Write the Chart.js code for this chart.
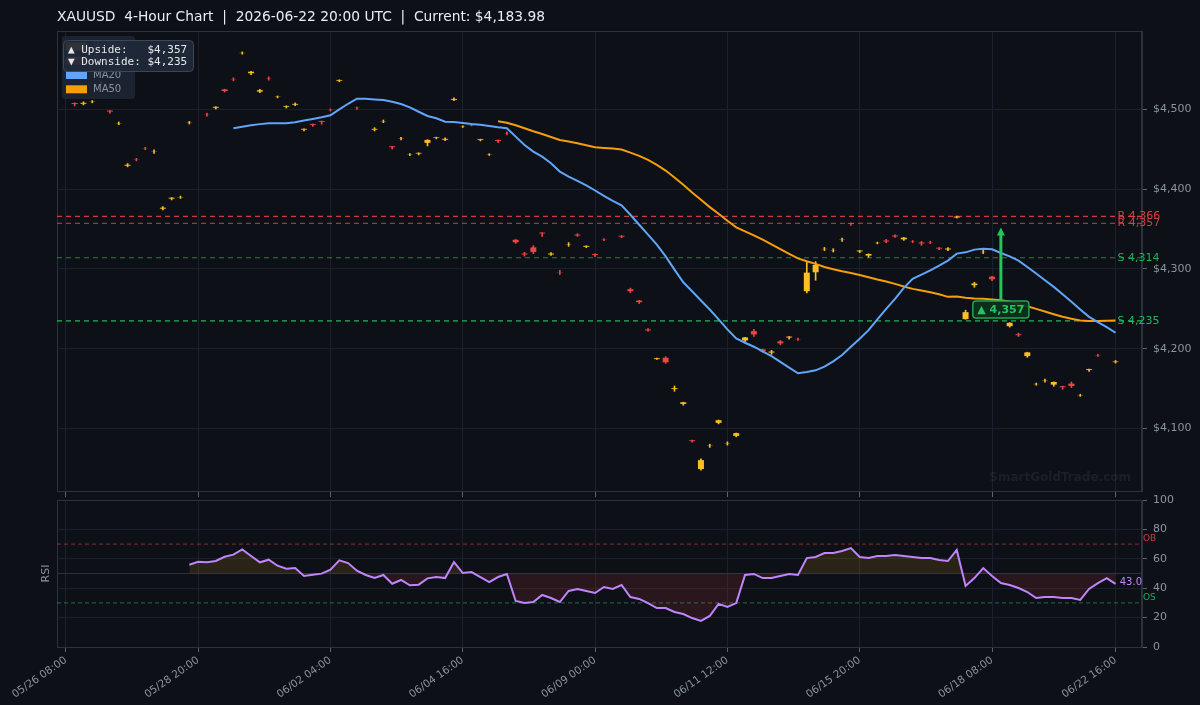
<!DOCTYPE html>
<html><head><meta charset="utf-8">
<script src="https://cdn.jsdelivr.net/npm/chart.js@4.4.1/dist/chart.umd.min.js"></script>
<style>
html,body{margin:0;padding:0;background:#0d1017;}
#wrap{position:relative;width:1200px;height:705px;background:#0d1017;overflow:hidden;}
#c1{position:absolute;left:0;top:0;width:1200px;height:498px;}
#c2{position:absolute;left:0;top:488px;width:1200px;height:217px;}
</style></head>
<body><div id="wrap"><canvas id="c1" width="1200" height="498"></canvas><canvas id="c2" width="1200" height="217"></canvas></div>
<script>
// ---------------- DATA ----------------
const tickLabels = ['05/26 08:00','05/28 20:00','06/02 04:00','06/04 16:00','06/09 00:00','06/11 12:00','06/15 20:00','06/18 08:00','06/22 16:00'];
const tickIdx = [0,15,30,45,60,75,90,105,119];

const opens = [4559.5,4507.9,4507,4509.6,4533.5,4498.4,4482.4,4429.4,4437.2,4451.2,
4447,4375.5,4388.1,4389.4,4483.2,null,4493.7,4502,4525.1,4537.7,
4570.5,4545.3,4522.2,4539,4515.5,4503.3,4505.8,4474.6,4481.6,4485.4,
4499.4,4535.9,null,4502,null,4474.6,4484.8,4453.7,4463.2,4443.2,
4444.6,4458,4464.3,4461.9,4511.9,4478.2,4480.2,4461.6,4443.2,4461.6,
4470.1,4336.6,4319.3,4327,4345.5,4318.1,4295.8,4330.5,4343,4327.8,
4318.7,4336.8,null,4341.6,4274.6,4260.4,4224.2,4187,4188.7,4149.4,
4130.8,4085.3,4049.2,4078.1,4107.1,4081.1,4090.8,4210.4,4222,4199.2,
4195.2,4209.2,4214,4212.1,4272.1,4295.8,4324.8,4323.2,4336.6,4357.4,
4322,4316.7,4332.4,4335.6,4341.9,4337.1,4334.4,4333.1,4333.4,4326.6,
4324.4,4364.4,4237.1,4279.6,4321.1,4290.4,null,4228.3,4218.1,4190.8,
4155.6,4159.8,4155,4153,4156.25,4141.6,4173.3,4191.8,null,4183.2];
const highs = [4562,4508.2,4509.4,4511,4535,4498.6,4484.2,4432,4438.6,4452.5,
4449.2,4378,4389.4,4391.3,4484.9,null,4495.4,4503.3,4525.3,4539.6,
4572,4547.6,4525,4540.8,4516.8,4504.4,4508,4475.6,4481.7,4485.5,
4500.5,4537,null,4503,null,4477,4486.7,4453.8,4464.8,4444.6,
4445.6,4462,4465.2,4464.2,4514.5,4479.4,4480.8,4462.6,4444.4,4461.7,
4471.8,4336.8,4320.8,4329.2,4345.6,4320.4,4298.3,4333,4344.2,4328.9,
4318.8,4337.9,null,4341.7,4276,4260.6,4225.4,4188.4,4190,4153.3,
4133,4085.4,4062,4080.3,4110.6,4083.3,4094.4,4214.4,4224.2,4199.4,
4197.9,4210.4,4215.2,4213.4,4309.6,4309.2,4327,4325.4,4338.8,4357.5,
4323.1,4318.9,4333.6,4337,4342.9,4339.4,4335.6,4334.6,4334.8,4326.7,
4326.7,4366.3,4248.3,4283.3,4323.3,4290.6,null,4232.7,4219.6,4195.6,
4157,4162,4158.5,4153.1,4158.3,4143,4174.4,4192.9,null,4185.3];
const lows = [4557,4504.4,4505.6,4508.2,4531,4495.2,4480.8,4428,4435.4,4449.4,
4444.8,4374,4386.5,4388.4,4481.6,null,4491.6,4500.4,4521.6,4535.8,
4569.2,4543.6,4520.8,4536.6,4514.4,4501.7,4504.6,4472.9,4478.7,4481.3,
4497.9,4534.6,null,4500,null,4473,4483.3,4450.4,4461.7,4442,
4442.9,4454.2,4463,4460.8,4510.8,4477.3,4479.3,4460.4,4442.2,4458.4,
4468,4332,4316,4319.2,4340.8,4317,4293,4328.3,4340.8,4326.7,
4315.4,4335.4,null,4339,4270.4,4256.7,4222,4186.6,4181.7,4146.7,
4129.2,4082.9,4047.9,4076.3,4105.8,4079.2,4089.6,4208.7,4215.4,4195.4,
4192.9,4205,4212,4210.4,4270,4285.8,4323,4321.2,4334.6,4354.6,
4320.4,4314.6,4331.4,4332.9,4339.6,4335.8,4332.9,4329.6,4331.7,4324.2,
4322.9,4363.8,4237,4277,4319.2,4285.4,null,4227.1,4215.4,4189.2,
4154.2,4158,4152.9,4149.2,4151.25,4140.4,4171.7,4190.4,null,4182];
const closes = [4560.8,4506.7,4508.2,4509.9,4533.2,4497.2,4482.7,4430.6,4436.9,4450.9,
4447.3,4376.8,4389.3,4389.7,4483.5,null,4493.4,4503.2,4523,4537.4,
4570.8,4547.2,4524,4538.7,4515.8,4504.3,4506.9,4475.6,4480.5,4484.3,
4499.1,4536.9,null,4501.7,null,4475.6,4485.1,4452.6,4463.5,4443.5,
4445.5,4461.7,4465.1,4463.1,4513.1,4478.5,4479.9,4462.6,4443.5,4460.4,
4469.8,4333.4,4318.1,4321.3,4344.4,4319.3,4295.5,4330.8,4341.9,4329,
4317.6,4336.5,null,4340.5,4272.1,4258.3,4223,4188.1,4183,4150.6,
4132.9,4084.2,4060.4,4078.4,4110.4,4081.4,4094.2,4214.2,4217.9,4196.7,
4196.5,4206.7,4215.2,4211.8,4295.4,4305,4325.1,4323.5,4336.9,4356.3,
4323.1,4318.75,4332.7,4334.4,4340.7,4339.2,4334.1,4331.9,4333.1,4325.5,
4325.6,4365.6,4245.8,4281.7,4321.4,4287.1,null,4232.5,4216.9,4195.4,
4155.9,4160.1,4158.3,4151.8,4153.3,4141.9,4174.4,4191.5,null,4183.98];

const MA20_START = 19;
const ma20 = [4476.3,4478.3,4480,4481.5,4482.5,4482.5,4482.5,4483.8,4486,4488,
4490,4492.5,4500,4507,4513.3,4513.3,4512.5,4511.7,4509.5,4506.7,
4502.5,4497,4491.7,4488.8,4484.6,4484.2,4482.9,4481.7,4480.8,4479.2,
4477.5,4476.3,4465.8,4455.4,4447.1,4440.8,4432.5,4422,4415.8,4410.4,
4404.6,4398.3,4391.7,4385.4,4379.6,4367.9,4355.4,4342.9,4330.4,4315.8,
4299.2,4283.3,4272.1,4260.4,4249.2,4236.7,4224.2,4212.9,4207.5,4202.5,
4196.7,4190.8,4183.5,4176.3,4169.2,4170.8,4172.9,4177.5,4184.2,4192.1,
4202.5,4212.5,4223.3,4236.7,4250,4262.5,4276.3,4287.5,4292.9,4298.3,
4304.2,4310.4,4319.2,4320.8,4324.2,4325.4,4324.6,4320,4315.8,4310.4,
4302.5,4294.2,4285.8,4277.5,4268.3,4258.8,4249.2,4240,4233.3,4227,4220];

const MA50_START = 49;
const ma50 = [4485,4483.3,4480,4476.3,4472.5,4469.2,4465.4,4461.7,4459.6,4457.5,
4455,4452.5,4451.7,4450.8,4449.6,4445.8,4441.7,4436.7,4430.4,4423.3,
4414.6,4405.4,4395.8,4386.7,4377.5,4369.2,4360.4,4352.1,4347.1,4342.1,
4336.7,4330.8,4324.8,4319,4313.3,4309.6,4306.3,4302.5,4299.6,4297.1,
4295,4292.5,4289.6,4286.7,4284.2,4281.3,4277.9,4275,4272.9,4270.8,
4268.3,4265,4265.4,4263.8,4262.9,4262.5,4261.7,4260.8,4259.2,4256.3,
4253.3,4250,4246.7,4243.3,4240,4237.5,4235.4,4234.6,4234.6,4235,4235.4];

const RSI_START = 14;
const rsi = [56,58,57.6,58.5,61.4,62.8,66.4,61.9,57.6,59.4,
55.3,53.3,53.7,48.3,49.2,49.9,52.6,59,57.1,51.9,
49,46.9,49,43,45.6,42,42.4,46.7,47.6,46.9,
57.8,50.3,51,47.6,44.2,47.6,49.7,31.3,29.9,30.6,
35.4,33.3,30.6,38.1,39.5,38.1,36.7,40.8,39.5,42.2,
34,32.7,29.9,26.5,26.5,23.8,22.4,19.7,17.7,21.1,
29.3,27.2,29.9,49,49.7,46.9,46.9,48.3,49.7,49,
60.5,61.2,63.9,63.9,65.3,67.3,61.2,60.5,61.9,61.9,
62.6,61.9,61.2,60.5,60.5,59.2,58.5,66,41.5,46.9,
53.7,48.3,43.5,42.2,40.1,37.4,33.3,34,34,33.3,
33.3,32,39.5,43.5,46.9,43];

const levelNames = ['R 4,366','R 4,357','S 4,314','S 4,235'];
const levelValues = [4366,4357,4314,4235];
const upsideTarget = 4357, downsideTarget = 4235;
const arrowIndex = 106, arrowBase = 4261;
const rsiOB = 70, rsiOS = 30, rsiMid = 50;

// ---------------- STYLE ----------------
const BG = '#0d1017', GRID = '#1b212c', BORDER = '#2a3240', TICKC = '#5b6473', TXT = '#8b949e';
const BULL = '#fbbf24', BEAR = '#ef4444', MA20C = '#60a5fa', MA50C = '#f59e0b', RSIC = '#c084fc';
const levelColors = ['rgba(239,68,68,0.85)','rgba(225,62,62,0.75)','rgba(34,197,94,0.65)','rgba(34,197,94,0.9)'];
const levelTextColors = ['#d9413f','#d33e3e','#1fae55','#22b858'];
const FONT = 'DejaVu Sans';
Chart.defaults.font.family = FONT;
Chart.defaults.color = TXT;

const N = closes.length;
const bodyPts = [], wickPts = [];
for (let i = 0; i < N; i++) {
  if (closes[i] == null) continue;
  bodyPts.push({x: i, y: [opens[i], closes[i]]});
  wickPts.push({x: i, y: [lows[i], highs[i]]});
}
const candleColor = c => { const i = c.raw ? c.raw.x : 0; return closes[i] >= opens[i] ? BULL : BEAR; };
const allLow = Math.min(...lows.filter(v => v != null));
const allHigh = Math.max(...highs.filter(v => v != null));
const pad = (allHigh - allLow) * 0.05;
const Y_MIN = allLow - pad, Y_MAX = allHigh + pad;
const X_MIN = -1, X_MAX = 122;

const levelSets = levelValues.map((v, k) => ({
  type: 'line', label: levelNames[k], data: [{x: X_MIN, y: v}, {x: X_MAX, y: v}],
  borderColor: levelColors[k], borderWidth: 1.2, borderDash: [5, 4], pointRadius: 0, order: 3
}));

function roundRect(ctx, x, y, w, h, r) {
  ctx.beginPath();
  ctx.moveTo(x + r, y); ctx.lineTo(x + w - r, y); ctx.quadraticCurveTo(x + w, y, x + w, y + r);
  ctx.lineTo(x + w, y + h - r); ctx.quadraticCurveTo(x + w, y + h, x + w - r, y + h);
  ctx.lineTo(x + r, y + h); ctx.quadraticCurveTo(x, y + h, x, y + h - r);
  ctx.lineTo(x, y + r); ctx.quadraticCurveTo(x, y, x + r, y); ctx.closePath();
}

const mainDecor = {
  id: 'mainDecor',
  beforeDraw(chart) {
    const {ctx, width, height} = chart;
    ctx.save(); ctx.fillStyle = BG; ctx.fillRect(0, 0, width, height); ctx.restore();
  },
  beforeDatasetsDraw(chart) {
    const {ctx, chartArea: a} = chart;
    ctx.save();
    ctx.strokeStyle = BORDER; ctx.lineWidth = 1;
    ctx.strokeRect(a.left + 0.5, a.top + 0.5, a.right - a.left - 1, a.bottom - a.top);
    ctx.font = 'bold 12px ' + FONT; ctx.fillStyle = 'rgba(120,135,160,0.13)';
    ctx.textAlign = 'right'; ctx.textBaseline = 'alphabetic';
    ctx.fillText('SmartGoldTrade.com', a.right - 11, a.bottom - 10);
    ctx.restore();
  },
  afterDatasetsDraw(chart) {
    const {ctx, scales: {x, y}} = chart;
    ctx.save();
    ctx.font = '11px ' + FONT; ctx.textAlign = 'left'; ctx.textBaseline = 'middle';
    levelValues.forEach((v, k) => {
      ctx.fillStyle = levelTextColors[k];
      ctx.fillText(levelNames[k], x.getPixelForValue(N - 1) + 2, y.getPixelForValue(v));
    });
    const ax = x.getPixelForValue(arrowIndex);
    const yb = y.getPixelForValue(arrowBase), yt = y.getPixelForValue(upsideTarget) + 4;
    ctx.strokeStyle = '#22c55e'; ctx.fillStyle = '#22c55e'; ctx.lineWidth = 3;
    ctx.beginPath(); ctx.moveTo(ax, yb); ctx.lineTo(ax, yt + 6); ctx.stroke();
    ctx.beginPath(); ctx.moveTo(ax, yt); ctx.lineTo(ax - 4, yt + 8); ctx.lineTo(ax + 4, yt + 8); ctx.closePath(); ctx.fill();
    const txt = '\u25B2 ' + upsideTarget.toLocaleString('en-US');
    ctx.font = 'bold 11px ' + FONT;
    const tw = ctx.measureText(txt).width;
    const bw = tw + 9, bh = 17, bx = ax - bw / 2, by = yb + 1;
    roundRect(ctx, bx, by, bw, bh, 3);
    ctx.fillStyle = 'rgba(12,50,28,0.92)'; ctx.fill();
    ctx.strokeStyle = '#1fa653'; ctx.lineWidth = 1.5; ctx.stroke();
    ctx.fillStyle = '#22c55e'; ctx.textAlign = 'center'; ctx.textBaseline = 'middle';
    ctx.fillText(txt, ax, by + bh / 2 + 0.5);
    ctx.restore();
  },
  afterDraw(chart) {
    const {ctx} = chart;
    ctx.save();
    ctx.font = '13.8px ' + FONT; ctx.fillStyle = '#e6edf3'; ctx.textAlign = 'left'; ctx.textBaseline = 'middle';
    ctx.fillText('XAUUSD  4-Hour Chart  |  2026-06-22 20:00 UTC  |  Current: $' + closes[N - 1].toLocaleString('en-US', {minimumFractionDigits: 2}), 57, 17);
    const items = [['Bullish', BULL], ['Bearish', BEAR], ['MA20', MA20C], ['MA50', MA50C]];
    roundRect(ctx, 62, 36, 73, 63, 3);
    ctx.fillStyle = 'rgba(30,39,54,0.85)'; ctx.fill();
    ctx.font = '10px ' + FONT; ctx.textBaseline = 'middle';
    items.forEach((it, k) => {
      const cy = 46.4 + k * 14.3;
      ctx.fillStyle = it[1]; ctx.fillRect(66, cy - 4, 21, 8);
      ctx.fillStyle = TXT; ctx.fillText(it[0], 93, cy);
    });
    roundRect(ctx, 63.5, 40.5, 130, 31, 4);
    ctx.fillStyle = 'rgba(31,41,57,0.93)'; ctx.fill();
    ctx.strokeStyle = '#3b4656'; ctx.lineWidth = 1; ctx.stroke();
    ctx.font = '11px DejaVu Sans Mono'; ctx.fillStyle = '#e5e7eb';
    ctx.fillText('\u25B2 Upside:   $' + upsideTarget.toLocaleString('en-US'), 68, 50.5);
    ctx.fillText('\u25BC Downside: $' + downsideTarget.toLocaleString('en-US'), 68, 62.5);
    ctx.restore();
  }
};

const xTicks = s => { s.ticks = tickIdx.map(v => ({value: v})); };
const noPadY = s => { s.width = 58; s.paddingTop = 0; s.paddingBottom = 0; };

new Chart(document.getElementById('c1'), {
  type: 'bar',
  data: { datasets: [
    {type: 'line', label: 'MA20', data: ma20.map((v, k) => ({x: MA20_START + k, y: v})), borderColor: MA20C, borderWidth: 2, pointRadius: 0, tension: 0, order: 0},
    {type: 'line', label: 'MA50', data: ma50.map((v, k) => ({x: MA50_START + k, y: v})), borderColor: MA50C, borderWidth: 2, pointRadius: 0, tension: 0, order: 0},
    {type: 'bar', label: 'Body', data: bodyPts, backgroundColor: candleColor, borderWidth: 0, barPercentage: 0.68, categoryPercentage: 1, grouped: false, order: 1},
    {type: 'bar', label: 'Wick', data: wickPts, backgroundColor: candleColor, borderWidth: 0, barThickness: 1, grouped: false, order: 2},
    ...levelSets
  ]},
  options: {
    responsive: false, animation: false, devicePixelRatio: 1,
    layout: {padding: {left: 57, top: 31, right: 0, bottom: 0}},
    plugins: {legend: {display: false}, tooltip: {enabled: false}},
    scales: {
      x: {type: 'linear', min: X_MIN, max: X_MAX, offset: false, afterBuildTicks: xTicks,
          ticks: {display: false}, grid: {offset: false, color: GRID, tickColor: TICKC, tickLength: 6},
          border: {color: BORDER}, afterFit: s => { s.height = 7; }},
      y: {type: 'linear', position: 'right', min: Y_MIN, max: Y_MAX,
          ticks: {stepSize: 100, includeBounds: false, color: TXT, font: {size: 11}, padding: 6,
                  callback: v => '$' + v.toLocaleString('en-US')},
          grid: {color: GRID, tickColor: TICKC, tickLength: 5},
          border: {color: BORDER}, afterFit: noPadY}
    }
  },
  plugins: [mainDecor]
});

// ---------------- RSI ----------------
const rsiDecor = {
  id: 'rsiDecor',
  beforeDatasetsDraw(chart) {
    const {ctx, chartArea: a} = chart;
    ctx.save(); ctx.strokeStyle = BORDER; ctx.lineWidth = 1;
    ctx.strokeRect(a.left + 0.5, a.top + 0.5, a.right - a.left - 1, a.bottom - a.top);
    ctx.restore();
  },
  afterDraw(chart) {
    const {ctx, chartArea: a, scales: {x, y}} = chart;
    ctx.save();
    ctx.font = '11px ' + FONT; ctx.fillStyle = TXT; ctx.textAlign = 'center'; ctx.textBaseline = 'middle';
    ctx.translate(46, (a.top + a.bottom) / 2); ctx.rotate(-Math.PI / 2); ctx.fillText('RSI', 0, 0);
    ctx.restore();
    ctx.save();
    ctx.font = '9px ' + FONT; ctx.textAlign = 'left'; ctx.textBaseline = 'middle';
    ctx.fillStyle = 'rgba(239,68,68,0.85)'; ctx.fillText('OB', a.right + 1, y.getPixelForValue(rsiOB) - 5);
    ctx.fillStyle = 'rgba(34,197,94,0.85)'; ctx.fillText('OS', a.right + 1, y.getPixelForValue(rsiOS) - 5);
    const last = rsi[rsi.length - 1];
    ctx.font = '10px ' + FONT; ctx.fillStyle = RSIC; ctx.textAlign = 'right';
    ctx.fillText(last.toFixed(1), a.right, y.getPixelForValue(last) - 1);
    ctx.restore();
  }
};

const hLine = (v, color, dash) => ({type: 'line', data: [{x: X_MIN, y: v}, {x: X_MAX, y: v}], borderColor: color, borderWidth: 1, borderDash: dash, pointRadius: 0, order: 5});

new Chart(document.getElementById('c2'), {
  type: 'line',
  data: { datasets: [
    {label: 'RSI', data: rsi.map((v, k) => ({x: RSI_START + k, y: v})), borderColor: RSIC, borderWidth: 2, pointRadius: 0, tension: 0,
     fill: {target: {value: rsiMid}, above: 'rgba(234,179,8,0.13)', below: 'rgba(239,68,68,0.13)'}, order: 0},
    hLine(rsiOB, 'rgba(239,68,68,0.55)', [4, 3]),
    hLine(rsiOS, 'rgba(34,197,94,0.55)', [4, 3]),
    hLine(rsiMid, '#2a3240', [])
  ]},
  options: {
    responsive: false, animation: false, devicePixelRatio: 1,
    layout: {padding: {left: 57, top: 12, right: 0, bottom: 0}},
    plugins: {legend: {display: false}, tooltip: {enabled: false}},
    scales: {
      x: {type: 'linear', min: X_MIN, max: X_MAX, offset: false, afterBuildTicks: xTicks,
          ticks: {color: TXT, font: {size: 10.5}, minRotation: 35, maxRotation: 35, padding: 2,
                  callback: v => { const k = tickIdx.indexOf(v); return k >= 0 ? tickLabels[k] : ''; }},
          grid: {color: GRID, tickColor: TICKC, tickLength: 5},
          border: {color: BORDER}, afterFit: s => { s.height = 58; }},
      y: {type: 'linear', position: 'right', min: 0, max: 100,
          ticks: {stepSize: 20, color: TXT, font: {size: 11}, padding: 6},
          grid: {color: GRID, tickColor: TICKC, tickLength: 5},
          border: {color: BORDER}, afterFit: noPadY}
    }
  },
  plugins: [rsiDecor]
});
</script></body></html>
